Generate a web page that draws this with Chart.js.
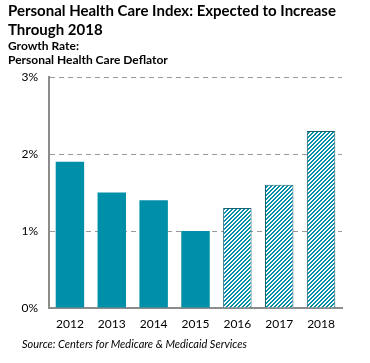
<!DOCTYPE html>
<html>
<head>
<meta charset="utf-8">
<script src="https://cdn.jsdelivr.net/npm/chart.js@4.4.1/dist/chart.umd.min.js"></script>
<style>
  html, body { margin: 0; padding: 0; background: #fff; }
  #wrap { position: relative; width: 370px; height: 363px; font-family: Lato, "Open Sans", sans-serif; color: #000; }
  #chart { position: absolute; left: 0; top: 0; }
  .txt { position: absolute; left: 8px; white-space: nowrap; }
  #t1 { top: 1px; font-size: 15px; font-weight: bold; line-height: 19px; }
  #sub { top: 39px; font-size: 12px; font-weight: bold; line-height: 13.5px; }
  #src { top: 337px; left: 22px; font-size: 11px; font-style: italic; }
</style>
</head>
<body>
<div id="wrap">
  <canvas id="chart" width="370" height="363"></canvas>
  <div class="txt" id="t1">Personal Health Care Index: Expected to Increase<br>Through 2018</div>
  <div class="txt" id="sub">Growth Rate:<br>Personal Health Care Deflator</div>
  <div class="txt" id="src">Source: Centers for Medicare &amp; Medicaid Services</div>
</div>
<script>
const years = ['2012', '2013', '2014', '2015', '2016', '2017', '2018'];
const growthRate = [1.9, 1.5, 1.4, 1.0, 1.3, 1.6, 2.3];
const projected = [false, false, false, false, true, true, true];
const yTicks = [0, 1, 2, 3];

const teal = '#008FA8';
const darkTeal = '#1C6474';

// pixel hatch (upward diagonal) for projected years
function makeHatch() {
  const s = 4;
  const c = document.createElement('canvas');
  c.width = s; c.height = s;
  const g = c.getContext('2d');
  g.fillStyle = '#fff';
  g.fillRect(0, 0, s, s);
  g.fillStyle = teal;
  for (let y = 0; y < s; y++) {
    for (let x = 0; x < s; x++) {
      if ((x + y) % 4 < 2) g.fillRect(x, y, 1, 1);
    }
  }
  return g.createPattern(c, 'repeat');
}
const hatch = makeHatch();

new Chart(document.getElementById('chart'), {
  type: 'bar',
  data: {
    labels: years,
    datasets: [{
      data: growthRate,
      backgroundColor: projected.map(p => p ? hatch : teal),
      borderColor: projected.map(p => p ? darkTeal : teal),
      borderWidth: projected.map(p => p ? 1 : 0),
      barPercentage: 0.68,
      categoryPercentage: 1
    }]
  },
  options: {
    responsive: false,
    animation: false,
    layout: { padding: { top: 77, right: 28, left: 0, bottom: 0 } },
    plugins: { legend: { display: false }, tooltip: { enabled: false } },
    scales: {
      x: {
        afterFit: s => { s.height = 55; },
        grid: { display: false, drawTicks: false },
        border: { color: '#8c8c8c', width: 2 },
        ticks: { padding: 9, color: '#000', font: { family: 'Lato', size: 12 } }
      },
      y: {
        min: 0, max: 3,
        afterFit: s => { s.width = 49; },
        afterBuildTicks: s => { s.ticks = yTicks.map(v => ({ value: v })); },
        grid: {
          color: ctx => ctx.tick.value === 0 ? 'rgba(0,0,0,0)' : '#9a9a9a',
          drawTicks: false
        },
        border: { color: '#8c8c8c', width: 2, dash: [5, 4] },
        ticks: {
          padding: 11, color: '#000', font: { family: 'Lato', size: 12 },
          callback: v => v + '%'
        }
      }
    }
  }
});
</script>
</body>
</html>
